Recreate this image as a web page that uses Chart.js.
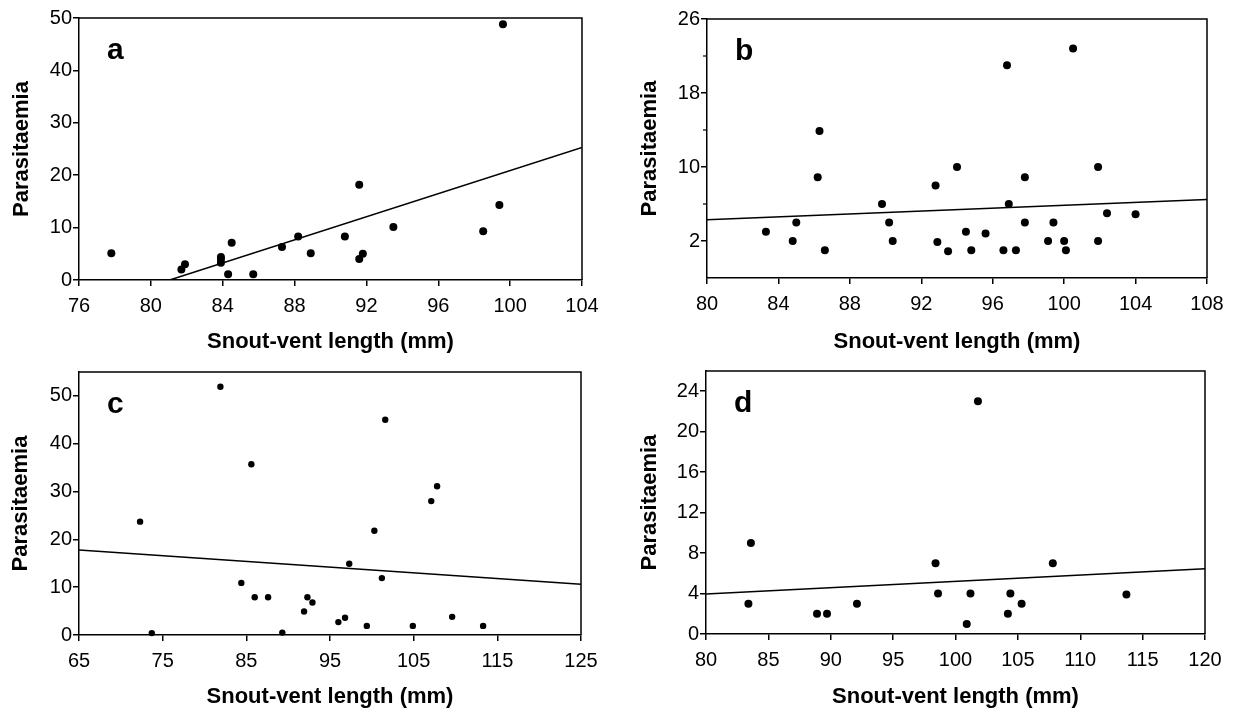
<!DOCTYPE html>
<html>
<head>
<meta charset="utf-8">
<script src="https://cdn.jsdelivr.net/npm/chart.js@4.4.1/dist/chart.umd.min.js"></script>
<style>
  html, body { margin: 0; padding: 0; background: #fff; }
  body { width: 1234px; height: 710px; position: relative; overflow: hidden; }
  .panel { position: absolute; width: 617px; height: 355px; }
</style>
</head>
<body>
<div class="panel" style="left:0;top:0"><canvas id="chart-a" width="617" height="355"></canvas></div>
<div class="panel" style="left:617px;top:0"><canvas id="chart-b" width="617" height="355"></canvas></div>
<div class="panel" style="left:0;top:355px"><canvas id="chart-c" width="617" height="355"></canvas></div>
<div class="panel" style="left:617px;top:355px"><canvas id="chart-d" width="617" height="355"></canvas></div>
<script>
// ── Data ──
// panel a
var aX = [77.8, 81.7, 81.9, 83.9, 83.9, 83.9, 84.3, 84.5, 85.7, 87.3, 88.2, 88.9, 90.8, 91.6, 91.6, 91.8, 93.5, 98.5, 99.4, 99.6];
var aY = [5.1, 2.0, 3.0, 3.3, 4.0, 4.4, 1.1, 7.1, 1.1, 6.3, 8.3, 5.1, 8.3, 18.2, 4.0, 5.0, 10.1, 9.3, 14.3, 48.8];
var aLineX = [81.05, 104];
var aLineY = [0, 25.3];
var aXTicks = [76, 80, 84, 88, 92, 96, 100, 104];
var aYTicks = [0, 10, 20, 30, 40, 50];

// panel b
var bX = [83.3, 84.8, 85.0, 86.6, 86.3, 86.2, 89.8, 90.2, 90.4, 92.8, 92.9, 93.5, 94.0, 94.5, 94.8, 95.6, 96.6, 96.8, 96.9, 97.3,
          97.8, 97.8, 99.1, 99.4, 100.0, 100.1, 100.5, 101.9, 101.9, 102.4, 104.0];
var bY = [3.0, 2.0, 4.0, 1.0, 13.9, 8.9, 6.0, 4.0, 2.0, 8.0, 1.9, 0.9, 10.0, 3.0, 1.0, 2.8, 1.0, 21.0, 6.0, 1.0,
          8.9, 4.0, 2.0, 4.0, 2.0, 1.0, 22.8, 10.0, 2.0, 5.0, 4.9];
var bLineX = [80, 108];
var bLineY = [4.3, 6.5];
var bXTicks = [80, 84, 88, 92, 96, 100, 104, 108];
var bYTicks = [2, 10, 18, 26];
var bYMinorTicks = [6, 14, 22];

// panel c
var cX = [72.3, 73.7, 81.9, 84.4, 85.6, 86.0, 87.6, 89.3, 91.9, 92.3, 92.9, 96.0, 96.8, 97.3, 99.4, 100.3, 101.2, 101.6, 104.9, 107.1,
          107.8, 109.6, 113.3];
var cY = [23.7, 0.4, 51.9, 10.9, 35.7, 7.9, 7.9, 0.5, 4.9, 7.9, 6.8, 2.7, 3.6, 14.9, 1.9, 21.8, 11.9, 45.0, 1.9, 28.0,
          31.1, 3.8, 1.9];
var cLineX = [65, 125];
var cLineY = [17.8, 10.6];
var cXTicks = [65, 75, 85, 95, 105, 115, 125];
var cYTicks = [0, 10, 20, 30, 40, 50];

// panel d
var dX = [83.6, 83.4, 88.9, 89.7, 92.1, 98.4, 98.6, 100.9, 101.2, 101.8, 104.2, 104.4, 105.3, 107.8, 113.7];
var dY = [9.0, 3.0, 2.0, 2.0, 3.0, 7.0, 4.0, 1.0, 4.0, 23.0, 2.0, 4.0, 3.0, 7.0, 3.9];
var dLineX = [80, 120];
var dLineY = [3.95, 6.45];
var dXTicks = [80, 85, 90, 95, 100, 105, 110, 115, 120];
var dYTicks = [0, 4, 8, 12, 16, 20, 24];

var X_TITLE = 'Snout-vent length (mm)';
var Y_TITLE = 'Parasitaemia';
var FONT = "'Liberation Sans', Arial, Helvetica, sans-serif";

Chart.defaults.font.family = FONT;
Chart.defaults.color = '#000';

function toPoints(xs, ys) {
  var pts = [];
  for (var i = 0; i < xs.length; i++) pts.push({ x: xs[i], y: ys[i] });
  return pts;
}

// frame round the plot area, panel letter, optional minor ticks
var panelPlugin = {
  id: 'panelDecor',
  afterDraw: function(chart) {
    var o = chart.options.plugins.panelDecor;
    var ca = chart.chartArea;
    var ctx = chart.ctx;
    ctx.save();
    ctx.strokeStyle = '#000';
    ctx.lineWidth = 1.5;
    ctx.beginPath();
    ctx.moveTo(ca.left, ca.top);
    ctx.lineTo(ca.right, ca.top);
    ctx.lineTo(ca.right, ca.bottom);
    ctx.stroke();
    if (o.minor) {
      var ys = chart.scales.y;
      ctx.lineWidth = 1.2;
      for (var i = 0; i < o.minor.length; i++) {
        var py = ys.getPixelForValue(o.minor[i]);
        ctx.beginPath();
        ctx.moveTo(ca.left - 4, py);
        ctx.lineTo(ca.left, py);
        ctx.stroke();
      }
    }
    ctx.fillStyle = '#000';
    ctx.font = 'bold 30px ' + FONT;
    ctx.textBaseline = 'alphabetic';
    ctx.textAlign = 'left';
    ctx.fillText(o.letter, ca.left + 28, ca.top + 41);
    ctx.restore();
  }
};

function makePanel(id, cfg) {
  var W = 617, H = 355;
  var fixed = function(list) {
    return function(scale) {
      scale.ticks = list.map(function(v) { return { value: v }; });
    };
  };
  return new Chart(document.getElementById(id), {
    type: 'scatter',
    data: {
      datasets: [
        {
          data: toPoints(cfg.x, cfg.y),
          backgroundColor: '#000',
          borderColor: '#000',
          pointRadius: cfg.radius,
          pointBorderWidth: 0,
          clip: false
        },
        {
          type: 'line',
          data: toPoints(cfg.lineX, cfg.lineY),
          borderColor: '#000',
          borderWidth: 1.5,
          pointRadius: 0,
          fill: false
        }
      ]
    },
    options: {
      responsive: false,
      animation: false,
      events: [],
      layout: {
        autoPadding: false,
        padding: { left: 0, top: cfg.top, right: W - cfg.right, bottom: 0 }
      },
      scales: {
        x: {
          type: 'linear',
          min: cfg.xTicks[0],
          max: cfg.xTicks[cfg.xTicks.length - 1],
          afterBuildTicks: fixed(cfg.xTicks),
          afterFit: function(scale) { scale.height = H - cfg.bottom; },
          grid: { drawOnChartArea: false, drawTicks: true, tickLength: 6, color: '#000', lineWidth: 1.5 },
          border: { color: '#000', width: 1.5 },
          ticks: { font: { size: 20 }, padding: 8, maxRotation: 0, autoSkip: false },
          title: { display: true, text: X_TITLE, font: { size: 22, weight: 'bold' }, padding: { top: 0, bottom: 0 } }
        },
        y: {
          type: 'linear',
          min: cfg.yMin,
          max: cfg.yMax,
          afterBuildTicks: fixed(cfg.yTicks),
          afterFit: function(scale) { scale.width = cfg.left; },
          grid: { drawOnChartArea: false, drawTicks: true, tickLength: 6, color: '#000', lineWidth: 1.5 },
          border: { color: '#000', width: 1.5 },
          ticks: { font: { size: 20 }, padding: 1, autoSkip: false },
          title: { display: true, text: Y_TITLE, font: { size: 22, weight: 'bold' }, padding: { top: cfg.yTitlePad, bottom: 0 } }
        }
      },
      plugins: {
        legend: { display: false },
        tooltip: { enabled: false },
        panelDecor: { letter: cfg.letter, minor: cfg.minor }
      }
    },
    plugins: [panelPlugin]
  });
}

makePanel('chart-a', {
  letter: 'a', x: aX, y: aY, lineX: aLineX, lineY: aLineY, radius: 4,
  xTicks: aXTicks, yTicks: aYTicks, yMin: 0, yMax: 50,
  left: 79, right: 582, top: 18, bottom: 280, yTitlePad: 9
});
makePanel('chart-b', {
  letter: 'b', x: bX, y: bY, lineX: bLineX, lineY: bLineY, radius: 4,
  xTicks: bXTicks, yTicks: bYTicks, yMin: -2, yMax: 26, minor: bYMinorTicks,
  left: 90, right: 590, top: 19, bottom: 278, yTitlePad: 20
});
makePanel('chart-c', {
  letter: 'c', x: cX, y: cY, lineX: cLineX, lineY: cLineY, radius: 3.2,
  xTicks: cXTicks, yTicks: cYTicks, yMin: 0, yMax: 55,
  left: 79, right: 581, top: 17, bottom: 280, yTitlePad: 8
});
makePanel('chart-d', {
  letter: 'd', x: dX, y: dY, lineX: dLineX, lineY: dLineY, radius: 4,
  xTicks: dXTicks, yTicks: dYTicks, yMin: 0, yMax: 26,
  left: 89, right: 588, top: 16, bottom: 279, yTitlePad: 20
});
</script>
</body>
</html>
